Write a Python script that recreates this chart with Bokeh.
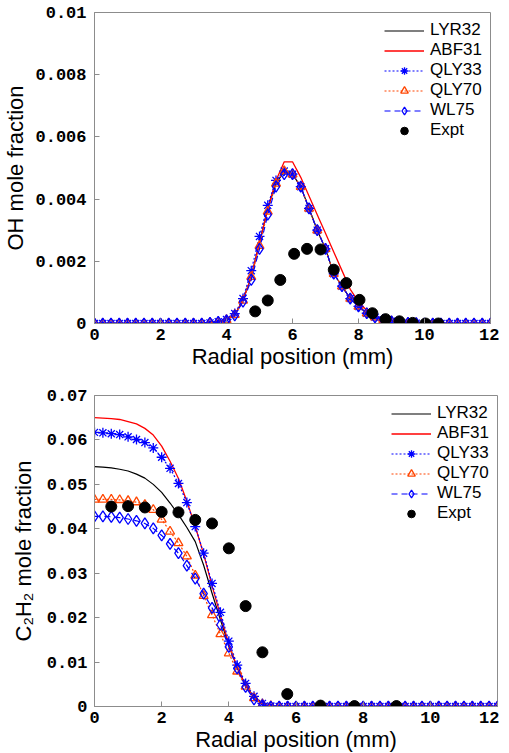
from bokeh.plotting import figure
from bokeh.models import FixedTicker, Legend, LegendItem
from bokeh.layouts import column
from bokeh.embed import file_html
from bokeh.resources import INLINE

# ---------------- data ----------------
radial_mm = [0.0, 0.25, 0.5, 0.75, 1.0, 1.25, 1.5, 1.75, 2.0, 2.25, 2.5, 2.75,
             3.0, 3.25, 3.5, 3.75, 4.0, 4.25, 4.5, 4.75, 5.0, 5.25, 5.5, 5.75,
             6.0, 6.25, 6.5, 6.75, 7.0, 7.25, 7.5, 7.75, 8.0, 8.25, 8.5, 8.75,
             9.0, 9.25, 9.5, 9.75, 10.0, 10.25, 10.5, 10.75, 11.0, 11.25, 11.5, 11.75, 12.0]

# OH mole fraction (top panel)
oh_lyr32 = [0, 0, 0, 0, 0, 0, 0, 0, 0, 0, 0, 0, 0, 0,
            0.00002, 0.00005, 0.00011, 0.00028, 0.00075, 0.0015, 0.0026, 0.0037, 0.0045, 0.0049,
            0.0048, 0.0044, 0.0037, 0.0030, 0.0024, 0.0016, 0.0012, 0.0008, 0.00055, 0.00033, 0.0002, 0.00012,
            0.00007, 0.00004, 0.00002, 0.00001, 0, 0, 0, 0, 0, 0, 0, 0, 0]
oh_abf31 = [0, 0, 0, 0, 0, 0, 0, 0, 0, 0, 0, 0, 0, 0,
            0.00002, 0.00005, 0.00011, 0.00028, 0.00075, 0.0015, 0.0026, 0.0037, 0.0046, 0.0052,
            0.0052, 0.0047, 0.0041, 0.0035, 0.0029, 0.0023, 0.0017, 0.0011, 0.0007, 0.00042, 0.00025, 0.00014,
            0.00008, 0.00004, 0.00002, 0.00001, 0, 0, 0, 0, 0, 0, 0, 0, 0]
oh_qly33 = [0, 0, 0, 0, 0, 0, 0, 0, 0, 0, 0, 0, 0, 0,
            0.00002, 0.00006, 0.00013, 0.00032, 0.0008, 0.0017, 0.0028, 0.0038, 0.0046, 0.0049,
            0.0048, 0.0044, 0.0037, 0.0030, 0.0024, 0.0016, 0.0012, 0.0008, 0.00055, 0.00033, 0.0002, 0.00012,
            0.00007, 0.00004, 0.00002, 0.00001, 0, 0, 0, 0, 0, 0, 0, 0, 0]
oh_qly70 = [0, 0, 0, 0, 0, 0, 0, 0, 0, 0, 0, 0, 0, 0,
            0.00002, 0.00005, 0.00011, 0.00028, 0.00074, 0.0015, 0.0025, 0.0036, 0.0045, 0.0049,
            0.0048, 0.0044, 0.0037, 0.0030, 0.0024, 0.0016, 0.0012, 0.0008, 0.00055, 0.00033, 0.0002, 0.00012,
            0.00007, 0.00004, 0.00002, 0.00001, 0, 0, 0, 0, 0, 0, 0, 0, 0]
oh_wl75 = [0, 0, 0, 0, 0, 0, 0, 0, 0, 0, 0, 0, 0, 0,
           0.00002, 0.00005, 0.0001, 0.00026, 0.0007, 0.0014, 0.0024, 0.0035, 0.0044, 0.0048,
           0.0048, 0.0044, 0.0037, 0.0030, 0.0024, 0.0016, 0.0012, 0.0008, 0.00055, 0.00033, 0.0002, 0.00012,
           0.00007, 0.00004, 0.00002, 0.00001, 0, 0, 0, 0, 0, 0, 0, 0, 0]
oh_expt_x = [4.87, 5.25, 5.63, 6.05, 6.44, 6.85, 7.25, 7.63, 8.03, 8.42, 8.82, 9.24, 9.64, 10.03, 10.42]
oh_expt_y = [0.00039, 0.00074, 0.0014, 0.00224, 0.0024, 0.00238, 0.00173, 0.0013, 0.00076, 0.00033,
             0.00014, 0.00007, 0.00002, 0.0, 0.0]

# C2H2 mole fraction (bottom panel)
c2h2_lyr32 = [0.054, 0.0539, 0.0537, 0.0534, 0.053, 0.0523, 0.0514, 0.050, 0.0482, 0.0458, 0.0432, 0.0403,
              0.0371, 0.0318, 0.0255, 0.0195, 0.0138, 0.0087, 0.0048, 0.002, 0.0005, 0.0001,
              0, 0, 0, 0, 0, 0, 0, 0, 0, 0, 0, 0, 0, 0, 0, 0, 0, 0, 0, 0, 0, 0, 0, 0, 0, 0, 0]
c2h2_abf31 = [0.065, 0.0649, 0.0648, 0.0646, 0.0641, 0.0636, 0.0626, 0.0611, 0.0586, 0.0552, 0.0513, 0.0462,
              0.0405, 0.0343, 0.0272, 0.0205, 0.014, 0.0088, 0.0048, 0.002, 0.0005, 0.0001,
              0, 0, 0, 0, 0, 0, 0, 0, 0, 0, 0, 0, 0, 0, 0, 0, 0, 0, 0, 0, 0, 0, 0, 0, 0, 0, 0]
c2h2_qly33 = [0.0617, 0.0616, 0.0614, 0.0612, 0.0607, 0.0601, 0.0594, 0.0582, 0.0561, 0.0536, 0.0502, 0.0459,
              0.0405, 0.0345, 0.0277, 0.0212, 0.0147, 0.0093, 0.0052, 0.0023, 0.0007, 0.0001,
              0, 0, 0, 0, 0, 0, 0, 0, 0, 0, 0, 0, 0, 0, 0, 0, 0, 0, 0, 0, 0, 0, 0, 0, 0, 0, 0]
c2h2_qly70 = [0.0466, 0.0466, 0.0466, 0.0465, 0.0463, 0.046, 0.0454, 0.0443, 0.0421, 0.0394, 0.0368, 0.0338,
              0.0295, 0.0249, 0.0206, 0.0163, 0.012, 0.0079, 0.0045, 0.0019, 0.0005, 0.0001,
              0, 0, 0, 0, 0, 0, 0, 0, 0, 0, 0, 0, 0, 0, 0, 0, 0, 0, 0, 0, 0, 0, 0, 0, 0, 0, 0]
c2h2_wl75 = [0.0428, 0.0428, 0.0427, 0.0425, 0.0422, 0.0418, 0.0412, 0.0401, 0.0385, 0.0366, 0.0345, 0.0317,
             0.0288, 0.0254, 0.0222, 0.0184, 0.0134, 0.0086, 0.0044, 0.0016, 0.0003, 0.0,
             0, 0, 0, 0, 0, 0, 0, 0, 0, 0, 0, 0, 0, 0, 0, 0, 0, 0, 0, 0, 0, 0, 0, 0, 0, 0, 0]
c2h2_expt_x = [0.5, 1.0, 1.5, 2.0, 2.5, 3.0, 3.5, 4.0, 4.5, 5.0, 5.74, 6.73, 7.74, 8.99]
c2h2_expt_y = [0.045, 0.0451, 0.0448, 0.0438, 0.0437, 0.042, 0.0412, 0.0356, 0.0226, 0.0122, 0.0028,
               0.0002, 0.0001, 0.0001]

x_ticks = [0, 2, 4, 6, 8, 10, 12]
oh_ticks = [0, 0.002, 0.004, 0.006, 0.008, 0.01]
oh_tick_labels = ["0", "0.002", "0.004", "0.006", "0.008", "0.01"]
c2h2_ticks = [0, 0.01, 0.02, 0.03, 0.04, 0.05, 0.06, 0.07]
c2h2_tick_labels = ["0", "0.01", "0.02", "0.03", "0.04", "0.05", "0.06", "0.07"]

series_names = ["LYR32", "ABF31", "QLY33", "QLY70", "WL75", "Expt"]

# ---------------- styling ----------------
TICK_FONT = "Liberation Mono"
LABEL_FONT = "Liberation Sans"
FRAME_GRAY = "#8c8c8c"
BLUE = "#0000ff"
ORANGE = "#ff4500"


def style_axes(p, yticks, ylabels, ylabel_text, ystandoff, ltitle_standoff):
    p.xgrid.visible = False
    p.ygrid.visible = False
    p.outline_line_color = FRAME_GRAY
    p.outline_line_width = 1
    for ax in (p.xaxis[0], p.yaxis[0]):
        ax.major_tick_in = 5
        ax.major_tick_out = 0
        ax.minor_tick_line_color = None
        ax.axis_line_color = FRAME_GRAY
        ax.major_tick_line_color = FRAME_GRAY
        ax.major_label_text_font = TICK_FONT
        ax.major_label_text_font_style = "bold"
        ax.major_label_text_font_size = "17px"
        ax.major_label_text_color = "black"
        ax.axis_label_text_font = LABEL_FONT
        ax.axis_label_text_font_style = "normal"
        ax.axis_label_text_font_size = "22px"
        ax.axis_label_text_color = "black"
    p.xaxis.ticker = FixedTicker(ticks=x_ticks)
    p.xaxis.axis_label = "Radial position (mm)"
    p.xaxis.major_label_standoff = 5
    p.xaxis.axis_label_standoff = 1
    p.yaxis.ticker = FixedTicker(ticks=yticks)
    p.yaxis.major_label_overrides = {t: l for t, l in zip(yticks, ylabels)}
    p.yaxis.axis_label = ylabel_text
    p.yaxis.major_label_standoff = ystandoff
    p.yaxis.axis_label_standoff = ltitle_standoff


def draw_series(p, ys, ex, ey):
    r_lyr = p.line(radial_mm, ys[0], line_color="black", line_width=1.2)
    r_abf = p.line(radial_mm, ys[1], line_color="red", line_width=1.3)
    r_q33l = p.line(radial_mm, ys[2], line_color=BLUE, line_width=1.2, line_dash="2 2")
    r_q33m = p.scatter(radial_mm, ys[2], marker="asterisk", size=10, line_color=BLUE, line_width=1.3)
    r_q70l = p.line(radial_mm, ys[3], line_color=ORANGE, line_width=1.2, line_dash="2 2")
    r_q70m = p.scatter(radial_mm, ys[3], marker="triangle", size=9, line_color=ORANGE,
                       fill_color=None, line_width=1.3)
    r_wll = p.line(radial_mm, ys[4], line_color=BLUE, line_width=1.2, line_dash="6 4")
    r_wlm = p.scatter(radial_mm, ys[4], marker="diamond", size=11, line_color=BLUE,
                      fill_color=None, line_width=1.3)
    r_exp = p.scatter(ex, ey, marker="circle", size=11, fill_color="black", line_color="black")
    items = [
        LegendItem(label=series_names[0], renderers=[r_lyr]),
        LegendItem(label=series_names[1], renderers=[r_abf]),
        LegendItem(label=series_names[2], renderers=[r_q33l, r_q33m]),
        LegendItem(label=series_names[3], renderers=[r_q70l, r_q70m]),
        LegendItem(label=series_names[4], renderers=[r_wll, r_wlm]),
        LegendItem(label=series_names[5], renderers=[r_exp]),
    ]
    leg = Legend(items=items, location="top_right", margin=8, padding=0, spacing=0,
                 glyph_width=40, glyph_height=19, label_height=19, label_standoff=6,
                 label_text_font=LABEL_FONT, label_text_font_size="17px",
                 label_text_color="black", border_line_color=None, background_fill_alpha=0)
    p.add_layout(leg)


p1 = figure(frame_width=396, frame_height=311, x_range=(0, 12), y_range=(0, 0.01),
            output_backend="svg", toolbar_location=None,
            min_border_left=88, min_border_right=9, min_border_top=12, min_border_bottom=10)
style_axes(p1, oh_ticks, oh_tick_labels, "OH mole fraction", 8, 4)
draw_series(p1, [oh_lyr32, oh_abf31, oh_qly33, oh_qly70, oh_wl75], oh_expt_x, oh_expt_y)

p2 = figure(frame_width=403, frame_height=311, x_range=(0, 12), y_range=(0, 0.07),
            output_backend="svg", toolbar_location=None,
            min_border_left=81, min_border_right=9, min_border_top=24, min_border_bottom=10)
style_axes(p2, c2h2_ticks, c2h2_tick_labels, "C\u2082H\u2082 mole fraction", 7, 8)
draw_series(p2, [c2h2_lyr32, c2h2_abf31, c2h2_qly33, c2h2_qly70, c2h2_wl75], c2h2_expt_x, c2h2_expt_y)

layout = column(p1, p2, spacing=0)
open("out.html", "w").write(file_html(layout, INLINE))
